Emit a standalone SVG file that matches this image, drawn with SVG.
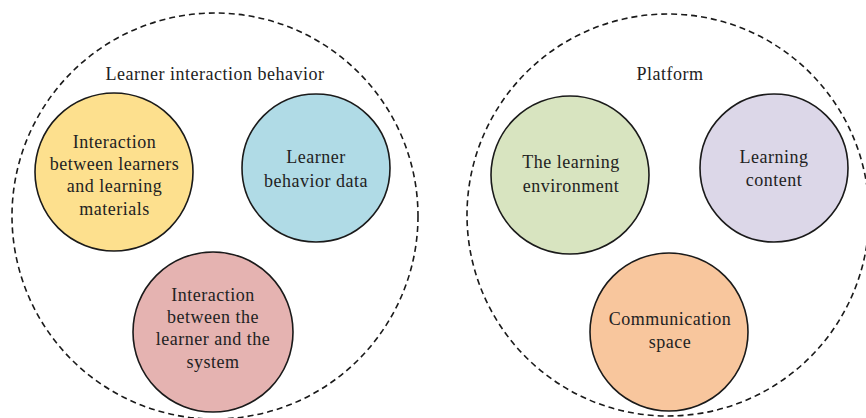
<svg xmlns="http://www.w3.org/2000/svg" width="866" height="418" viewBox="0 0 866 418">
  <style>
    .bg { fill: #ffffff; }
    .group { fill: none; stroke: #1a1a1a; stroke-width: 1.6; stroke-dasharray: 6 4; }
    .node { stroke: #1a1a1a; stroke-width: 1.6; }
    .label { font-size: 18px; letter-spacing: 0.5px; fill: #222222; text-anchor: middle; }
    .yellow { fill: #fde08e; }
    .blue { fill: #b0dbe6; }
    .pink { fill: #e5b3b1; }
    .green { fill: #d8e4c0; }
    .purple { fill: #dcd7e8; }
    .orange { fill: #f8c69d; }
  </style>
  <rect class="bg" x="0" y="0" width="866" height="418"/>

  <g font-family="'Times New Roman', 'Liberation Serif', serif">
    <!-- Learner interaction behavior -->
    <g id="learner-interaction-behavior">
      <circle class="group" cx="215" cy="216" r="203"/>
      <text class="label" x="215" y="80">Learner interaction behavior</text>
    </g>
    <g id="learners-materials">
      <circle class="node yellow" cx="114" cy="172" r="79"/>
      <text class="label" x="114.5" y="148">Interaction</text>
      <text class="label" x="114.5" y="170">between learners</text>
      <text class="label" x="114.5" y="192">and learning</text>
      <text class="label" x="114.5" y="215">materials</text>
    </g>
    <g id="behavior-data">
      <circle class="node blue" cx="316" cy="168" r="74"/>
      <text class="label" x="316" y="163">Learner</text>
      <text class="label" x="316" y="187">behavior data</text>
    </g>
    <g id="learner-system">
      <circle class="node pink" cx="213" cy="332" r="80"/>
      <text class="label" x="213" y="301">Interaction</text>
      <text class="label" x="213" y="323">between the</text>
      <text class="label" x="213" y="345">learner and the</text>
      <text class="label" x="213" y="368">system</text>
    </g>

    <!-- Platform -->
    <g id="platform">
      <circle class="group" cx="668" cy="215" r="201"/>
      <text class="label" x="670" y="80">Platform</text>
    </g>
    <g id="learning-environment">
      <circle class="node green" cx="570" cy="175" r="79"/>
      <text class="label" x="571" y="168">The learning</text>
      <text class="label" x="571" y="192">environment</text>
    </g>
    <g id="learning-content">
      <circle class="node purple" cx="774" cy="168" r="74"/>
      <text class="label" x="774" y="163">Learning</text>
      <text class="label" x="774" y="186">content</text>
    </g>
    <g id="communication-space">
      <circle class="node orange" cx="669" cy="332" r="79"/>
      <text class="label" x="670" y="325">Communication</text>
      <text class="label" x="670" y="348">space</text>
    </g>
  </g>

  <g id="connectors"></g>
</svg>
